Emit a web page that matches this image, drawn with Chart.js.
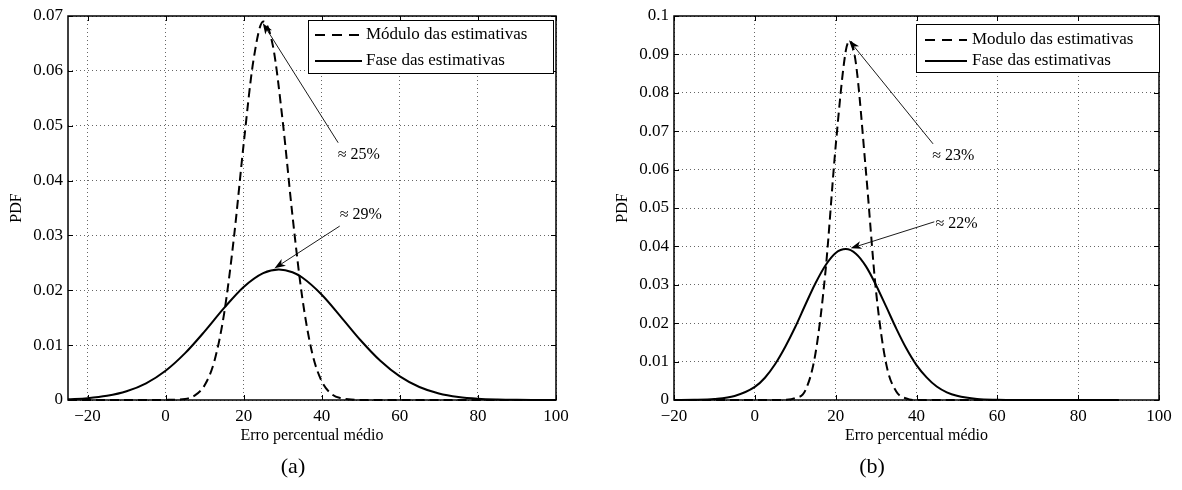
<!DOCTYPE html>
<html>
<head>
<meta charset="utf-8">
<script src="https://cdn.jsdelivr.net/npm/chart.js@4.4.1/dist/chart.umd.min.js"></script>
<style>
  html, body { margin: 0; padding: 0; background: #fff; }
  #wrap { position: relative; width: 1182px; height: 490px; }
  .pane { position: absolute; top: 0; width: 591px; height: 490px; }
  canvas { display: block; }
</style>
</head>
<body>
<div id="wrap">
  <div class="pane" style="left:0"><canvas id="cA" width="591" height="490"></canvas></div>
  <div class="pane" style="left:591px"><canvas id="cB" width="591" height="490"></canvas></div>
</div>
<script>
// ---------- panel (a) ----------
const xTicksA = [-20, 0, 20, 40, 60, 80, 100];
const yTicksA = [0, 0.01, 0.02, 0.03, 0.04, 0.05, 0.06, 0.07];
const legendA = ['Módulo das estimativas', 'Fase das estimativas'];

const moduloXA = [-25, -20, -15, -10, -5, 0,
  5, 7.5, 10, 12.5, 15, 17.5, 20, 22.5, 25, 27.5, 30, 32.5, 35, 37.5, 40, 42.5, 45, 47.5,
  50, 55, 60, 65, 70, 75, 80, 85, 90, 95, 100];
const moduloA = [0, 0, 0, 0, 0, 0.00002,
  0.0002, 0.00085, 0.0027, 0.0071, 0.0158, 0.0296, 0.0467, 0.0619, 0.069, 0.0645, 0.0508, 0.0336, 0.0187, 0.0087, 0.0034, 0.0011, 0.0003, 0.0001,
  0, 0, 0, 0, 0, 0, 0, 0, 0, 0, 0];

const faseXA = [-25, -20, -15, -10, -5, 0, 5, 10, 15, 20, 25, 29, 32.5, 35, 40, 45, 50, 55, 60, 65, 70, 75, 80, 85, 90, 95, 100];
const faseA = [0.00013, 0.00033, 0.00076, 0.00159, 0.00304, 0.00533, 0.00854, 0.01251, 0.01679, 0.02061, 0.02313, 0.0238, 0.02329, 0.02232, 0.01919, 0.01508, 0.01085, 0.00715, 0.0043, 0.00237, 0.00119, 0.00055, 0.00023, 0.00009, 0.00003, 0.00001, 0];

// ---------- panel (b) ----------
const xTicksB = [-20, 0, 20, 40, 60, 80, 100];
const yTicksB = [0, 0.01, 0.02, 0.03, 0.04, 0.05, 0.06, 0.07, 0.08, 0.09, 0.1];
const legendB = ['Modulo das estimativas', 'Fase das estimativas'];

const moduloXB = [-20, -15, -10, -5, 0, 5,
  7.5, 10, 12.5, 15, 17.5, 20, 22.5, 23.5, 25, 27.5, 30, 32.5, 35, 37.5, 40,
  45, 50, 55, 60, 65, 70, 75, 80, 85, 90];
const moduloB = [0, 0, 0, 0, 0, 0,
  0.00005, 0.0005, 0.0025, 0.0121, 0.0337, 0.0661, 0.0909, 0.0935, 0.0877, 0.0594, 0.0282, 0.0094, 0.0022, 0.0004, 0,
  0, 0, 0, 0, 0, 0, 0, 0, 0, 0];

const faseXB = [-20, -15, -10, -5, 0,
  2.5, 5, 7.5, 10, 12.5, 15, 17.5, 20, 22.5, 25, 27.5, 30, 32.5, 35, 37.5, 40, 42.5, 45, 47.5,
  50, 55, 60, 65, 70, 75, 80, 85, 90];
const faseB = [0.00001, 0.00005, 0.00026, 0.00105, 0.0034,
  0.0058, 0.0093, 0.0138, 0.0190, 0.0248, 0.0304, 0.0351, 0.0383, 0.0393, 0.0381, 0.0348, 0.0299, 0.0243, 0.0186, 0.0134, 0.0091, 0.0059, 0.0035, 0.0020,
  0.0011, 0.00026, 0.00005, 0, 0, 0, 0, 0, 0];

// Callouts: arrow tip, arrow tail and label anchor, in data units.
const calloutsA = [
  { text: '≈ 25%', tip: [24.9, 0.0687], tail: [44.2, 0.0469], at: [44.1, 0.0447] },
  { text: '≈ 29%', tip: [27.9, 0.0240], tail: [44.6, 0.0317], at: [44.6, 0.0337] }
];
const calloutsB = [
  { text: '≈ 23%', tip: [23.3, 0.0937], tail: [44.1, 0.0667], at: [43.9, 0.0635] },
  { text: '≈ 22%', tip: [23.7, 0.0395], tail: [44.4, 0.0464], at: [44.7, 0.0459] }
];

const SERIF = '"Liberation Serif", "Times New Roman", serif';

const zip = (xs, ys) => xs.map((x, i) => ({ x, y: ys[i] }));
const fmtX = v => (v < 0 ? '\u2212' + Math.abs(v) : String(v));
const fmtY = v => String(parseFloat(Number(v).toFixed(2)));

// Frame, inward tick marks, callouts, legend box and sub-caption
const figurePlugin = {
  id: 'figure',
  afterDatasetsDraw(chart, args, o) {
    const { ctx, chartArea: a, scales } = chart;
    const sx = scales.x, sy = scales.y;
    ctx.save();

    // inward tick marks on all four sides
    ctx.strokeStyle = '#000';
    ctx.lineWidth = 1;
    const tl = 5;
    ctx.beginPath();
    sx.ticks.forEach(t => {
      const p = Math.round(sx.getPixelForValue(t.value)) + 0.5;
      ctx.moveTo(p, a.bottom); ctx.lineTo(p, a.bottom - tl);
      ctx.moveTo(p, a.top); ctx.lineTo(p, a.top + tl);
    });
    sy.ticks.forEach(t => {
      const p = Math.round(sy.getPixelForValue(t.value)) + 0.5;
      ctx.moveTo(a.left, p); ctx.lineTo(a.left + tl, p);
      ctx.moveTo(a.right, p); ctx.lineTo(a.right - tl, p);
    });
    ctx.stroke();

    // axes box
    ctx.lineWidth = 1.5;
    ctx.strokeRect(a.left, a.top, a.right - a.left, a.bottom - a.top);

    // callouts
    ctx.fillStyle = '#000';
    ctx.font = '16px ' + SERIF;
    ctx.textBaseline = 'middle';
    ctx.textAlign = 'left';
    (o.callouts || []).forEach(c => {
      const tx = sx.getPixelForValue(c.tip[0]), ty = sy.getPixelForValue(c.tip[1]);
      const bx = sx.getPixelForValue(c.tail[0]), by = sy.getPixelForValue(c.tail[1]);
      const dx = tx - bx, dy = ty - by, len = Math.hypot(dx, dy);
      const ux = dx / len, uy = dy / len, nx = -uy, ny = ux;
      const L = 11, W = 4, notch = 8;
      ctx.lineWidth = 0.9;
      ctx.beginPath();
      ctx.moveTo(bx, by);
      ctx.lineTo(tx - ux * notch, ty - uy * notch);
      ctx.stroke();
      ctx.beginPath();
      ctx.moveTo(tx, ty);
      ctx.lineTo(tx - ux * L + nx * W, ty - uy * L + ny * W);
      ctx.lineTo(tx - ux * notch, ty - uy * notch);
      ctx.lineTo(tx - ux * L - nx * W, ty - uy * L - ny * W);
      ctx.closePath();
      ctx.fill();
      ctx.fillText(c.text, sx.getPixelForValue(c.at[0]), sy.getPixelForValue(c.at[1]));
    });

    // legend box
    const lg = o.legend;
    if (lg) {
      ctx.fillStyle = '#fff';
      ctx.fillRect(lg.x0, lg.y0, lg.x1 - lg.x0, lg.y1 - lg.y0);
      ctx.strokeStyle = '#000';
      ctx.lineWidth = 1;
      ctx.strokeRect(lg.x0 + 0.5, lg.y0 + 0.5, lg.x1 - lg.x0, lg.y1 - lg.y0);
      ctx.font = '17px ' + SERIF;
      ctx.fillStyle = '#000';
      chart.data.datasets.forEach((ds, i) => {
        const yy = lg.rows[i];
        ctx.lineWidth = 2;
        ctx.setLineDash(ds.borderDash && ds.borderDash.length ? [10, 7] : []);
        ctx.beginPath();
        ctx.moveTo(lg.s0, yy); ctx.lineTo(lg.s1, yy);
        ctx.stroke();
        ctx.setLineDash([]);
        ctx.fillText(ds.label, lg.tx, yy);
      });
    }

    // sub-caption
    if (o.caption) {
      ctx.font = '22px ' + SERIF;
      ctx.textAlign = 'center';
      ctx.fillText(o.caption.text, o.caption.x, o.caption.y);
    }
    ctx.restore();
  }
};

function makePanel(id, p) {
  const gridColor = 'rgba(0,0,0,0.6)';
  const tickFont = { family: SERIF, size: 17 };
  const titleFont = { family: SERIF, size: 16 };
  return new Chart(document.getElementById(id), {
    type: 'line',
    data: {
      datasets: [
        { label: p.legend[0], data: zip(p.mx, p.my), borderColor: '#000', borderWidth: 2,
          borderDash: [9, 5], pointRadius: 0, cubicInterpolationMode: 'monotone', fill: false, clip: false },
        { label: p.legend[1], data: zip(p.fx, p.fy), borderColor: '#000', borderWidth: 2,
          pointRadius: 0, cubicInterpolationMode: 'monotone', fill: false, clip: false }
      ]
    },
    options: {
      responsive: false,
      animation: false,
      events: [],
      layout: { padding: p.padding },
      scales: {
        x: {
          type: 'linear', min: p.xmin, max: p.xmax,
          afterBuildTicks: s => { s.ticks = p.xt.map(v => ({ value: v })); },
          afterFit: s => { s.height = 45; },
          grid: { color: gridColor, lineWidth: 1, drawTicks: false },
          border: { display: false, dash: [1, 3] },
          ticks: { font: tickFont, color: '#000', padding: 6, autoSkip: false, maxRotation: 0, callback: fmtX },
          title: { display: true, text: 'Erro percentual médio', font: titleFont, color: '#000', padding: { top: 0, bottom: 0 } }
        },
        y: {
          type: 'linear', min: 0, max: p.ymax,
          afterBuildTicks: s => { s.ticks = p.yt.map(v => ({ value: v })); },
          afterFit: s => { s.width = 68; },
          grid: { color: gridColor, lineWidth: 1, drawTicks: false },
          border: { display: false, dash: [1, 3] },
          ticks: { font: tickFont, color: '#000', padding: 5, autoSkip: false, callback: fmtY },
          title: { display: true, text: 'PDF', font: titleFont, color: '#000', padding: { top: 7, bottom: 0 } }
        }
      },
      plugins: {
        legend: { display: false },
        tooltip: { enabled: false },
        figure: { callouts: p.callouts, legend: p.legendBox, caption: p.caption }
      }
    },
    plugins: [figurePlugin]
  });
}

makePanel('cA', {
  mx: moduloXA, my: moduloA, fx: faseXA, fy: faseA,
  xt: xTicksA, yt: yTicksA, xmin: -25, xmax: 100, ymax: 0.07,
  legend: legendA, callouts: calloutsA,
  padding: { left: 0, right: 35, top: 16, bottom: 45 },
  legendBox: { x0: 308, y0: 20, x1: 553, y1: 73, s0: 315, s1: 362, tx: 366, rows: [35, 61] },
  caption: { text: '(a)', x: 293, y: 467 }
});

makePanel('cB', {
  mx: moduloXB, my: moduloB, fx: faseXB, fy: faseB,
  xt: xTicksB, yt: yTicksB, xmin: -20, xmax: 100, ymax: 0.1,
  legend: legendB, callouts: calloutsB,
  padding: { left: 15, right: 23, top: 16, bottom: 45 },
  legendBox: { x0: 325, y0: 24, x1: 568, y1: 72, s0: 334, s1: 376, tx: 381, rows: [40, 61] },
  caption: { text: '(b)', x: 281, y: 467 }
});
</script>
</body>
</html>
